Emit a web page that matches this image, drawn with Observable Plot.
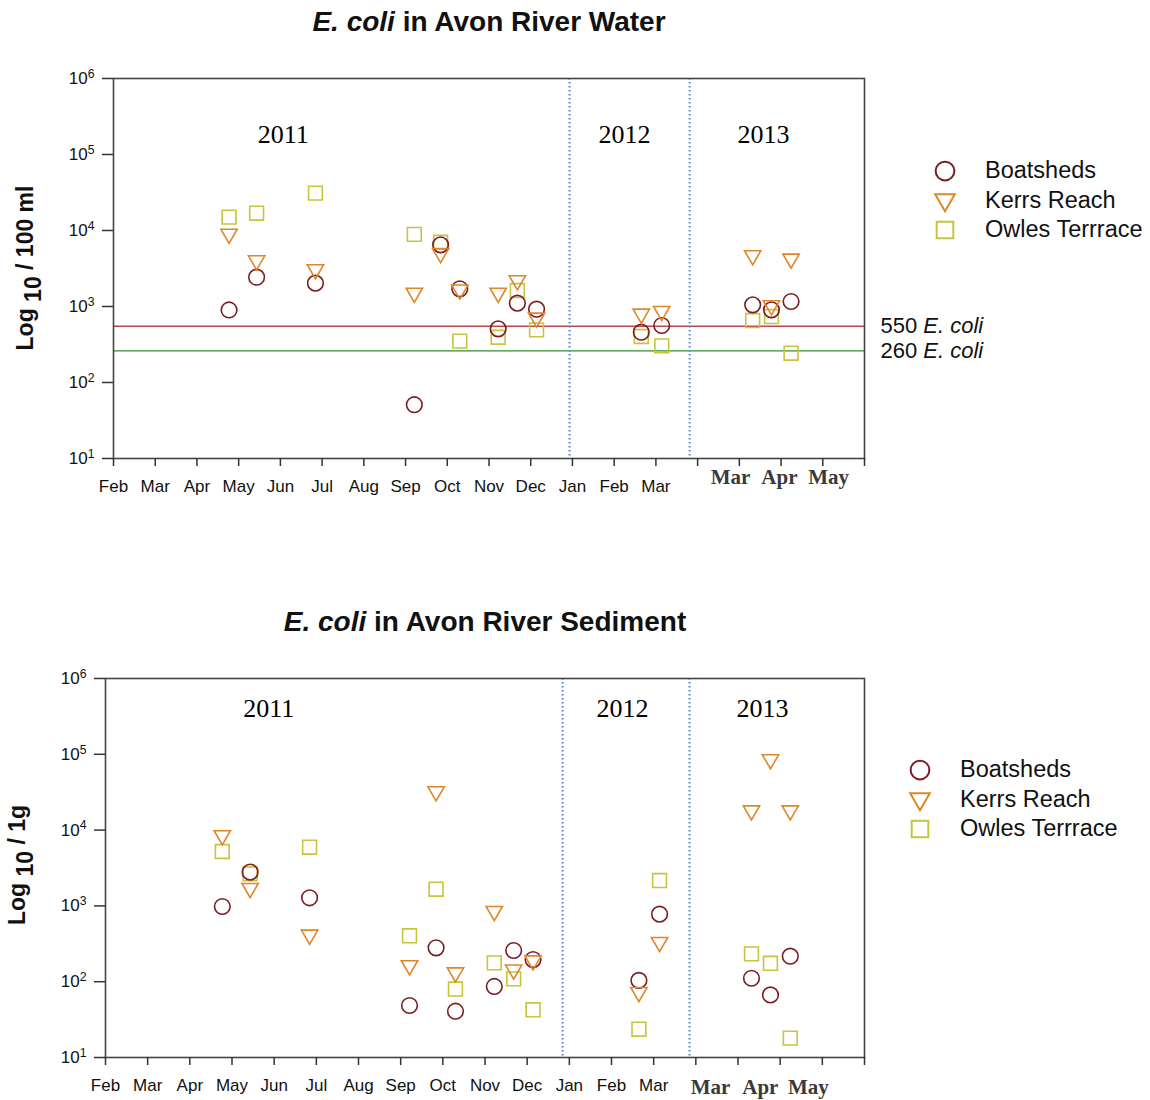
<!DOCTYPE html>
<html><head><meta charset="utf-8">
<script src="https://cdn.jsdelivr.net/npm/d3@7"></script>
<script src="https://cdn.jsdelivr.net/npm/@observablehq/plot@0.6"></script>
<style>
body{margin:0;background:#fff;}
#root{position:relative;width:1150px;height:1100px;font-family:"Liberation Sans",Arial,sans-serif;}
.abs{position:absolute;}
.title{font-weight:bold;font-size:28px;line-height:28px;text-align:center;color:#111;}
.ytitle{font-weight:bold;font-size:23px;line-height:23px;white-space:nowrap;transform:translate(-50%,-50%) rotate(-90deg);color:#111;}
.ytitle .sub{position:relative;top:0.35em;}
.lg-swatch{height:29.5px;padding-bottom:0 !important;}
.lg-swatch > svg{margin-right:30px !important;}
</style></head><body><div id="root"></div><script>
// ---------- data ----------
const sites = ["Boatsheds", "Kerrs Reach", "Owles Terrrace"];
const siteColors = ["#7a1c22", "#e0862a", "#c8c43c"];
// sampling positions in months since Feb 2011 (axis index)
const sampleIndex = [2.77, 3.43, 4.84, 7.21, 7.84, 8.3, 9.22, 9.68, 10.14, 12.65, 13.14, 15.32, 15.77, 16.24];
const waterBoatsheds = [900, 2430, 2030, 51, 6470, 1710, 508, 1107, 922, 459, 562, 1052, 904, 1163];
const waterKerrs     = [9000, 4030, 3070, 1510, 5020, 1660, 1510, 2200, 710, 800, 868, 4690, 1030, 4240];
const waterOwles     = [15000, 16900, 31000, 8900, 7000, 350, 394, 1620, 493, 403, 303, 654, 738, 243];
const sedBoatsheds   = [982, 2790, 1280, 48.5, 280, 40.8, 86.5, 258, 196, 104, 778, 111, 67, 217];
const sedKerrs       = [8490, 1710, 415, 164, 32300, 132, 851, 144, 190, 72.7, 332, 18100, 85400, 18100];
const sedOwles       = [5220, 2650, 5950, 403, 1660, 80, 177, 109, 42.6, 23.6, 2160, 233, 175, 18];

const monthTicks = [0,1,2,3,4,5,6,7,8,9,10,11,12,13,14,15,16,17,18];
const monthLabels = ["Feb","Mar","Apr","May","Jun","Jul","Aug","Sep","Oct","Nov","Dec","Jan","Feb","Mar"];
const labels2013 = ["Mar","Apr","May"];
const waterTicks2013 = [14.79, 15.96, 17.14];
const sedTicks2013 = [14.35, 15.53, 16.67];
const decadeTicks = [10, 100, 1000, 10000, 100000, 1000000];
const decadeExponents = ["1","2","3","4","5","6"];

const thresholdValues = [550, 260];
const thresholdLabels = ["550 E. coli", "260 E. coli"];
const thresholdColors = ["#b8484c", "#2f8f2f"];

const yearNames = ["2011", "2012", "2013"];
const waterYearX = [4.07, 12.25, 15.58];
const waterYearY = 182000;
const sedYearX = [3.87, 12.26, 15.58];
const sedYearY = 400000;
const waterBreaks = [10.93, 13.81];
const sedBreaks = [10.84, 13.85];

// ---------- helpers ----------
const SANS = "Liberation Sans, Arial, sans-serif";
const SERIF = "Liberation Serif, Times New Roman, serif";
const triDown = {
  draw(context, size) {
    const s = Math.sqrt(size) * 0.6824, t = s / 2, u = s * Math.sqrt(3) / 2;
    context.moveTo(0, s); context.lineTo(-u, -t); context.lineTo(u, -t); context.closePath();
  }
};
function makeTable(bo, ke, ow) {
  const rows = [];
  sampleIndex.forEach((x, i) => rows.push({x, value: ow[i], site: sites[2]}));
  sampleIndex.forEach((x, i) => rows.push({x, value: bo[i], site: sites[0]}));
  sampleIndex.forEach((x, i) => rows.push({x, value: ke[i], site: sites[1]}));
  return rows;
}
function panel({data, height, marginLeft, marginBottom, breaks, yearX, yearY, thresholds, ticks2013, pad2013}) {
  const marks = [];
  if (thresholds) {
    const th = thresholdValues.map((v, i) => ({v, label: thresholdLabels[i], c: thresholdColors[i]}));
    marks.push(Plot.ruleY(th, {y: "v", stroke: "c", strokeWidth: 1.3}));
    marks.push(Plot.text(th, {x: () => 18, y: "v", text: "label", dx: 16, textAnchor: "start", fontSize: 22, fontFamily: SANS, fill: "#111", ariaDescription: "threshold label"}));
  }
  marks.push(
    Plot.ruleX(breaks, {stroke: "#4a86c8", strokeWidth: 2, strokeDasharray: "1.5,2.5"}),
    Plot.frame({stroke: "#444", strokeWidth: 1.6}),
    Plot.axisX({ticks: monthTicks, tickFormat: (d) => monthLabels[d] ?? "", tickSize: 8, tickPadding: 13, stroke: "#333", strokeWidth: 1.5, fontSize: 17, fontFamily: SANS, fill: "#111", label: null}),
    Plot.axisX({ticks: ticks2013, tickFormat: (d) => labels2013[ticks2013.indexOf(d)], tickSize: 0, tickPadding: pad2013, fontSize: 21, fontWeight: "bold", fontFamily: SERIF, fill: "#3a3a3a", label: null}),
    Plot.axisY({ticks: decadeTicks, tickFormat: (d) => "10^" + decadeExponents[decadeTicks.indexOf(d)], tickSize: 11, tickPadding: 8, stroke: "#333", strokeWidth: 1.5, fontSize: 17, fontFamily: SANS, fill: "#111", label: null, ariaDescription: "decade"}),
    Plot.text(yearNames, {x: (d, i) => yearX[i], y: () => yearY, text: (d) => d, fontSize: 26, fontFamily: SERIF, fill: "#000"}),
    Plot.dot(data, {x: "x", y: "value", symbol: "site", stroke: "site", fill: "none", r: 7.8, strokeWidth: 1.6})
  );
  const chart = Plot.plot({
    width: 1150, height,
    marginLeft, marginRight: 286, marginTop: 78, marginBottom,
    x: {domain: [0, 18], axis: null},
    y: {type: "log", domain: [10, 1e6], axis: null},
    symbol: {domain: sites, range: ["circle", triDown, "square"]},
    color: {domain: sites, range: siteColors},
    style: {fontFamily: SANS, fontSize: "17px", background: "transparent", overflow: "visible", color: "#111"},
    marks
  });
  const svg = d3.select(chart);
  svg.selectAll('g[aria-description="threshold label"] text').each(function () {
    const t = this.textContent; const k = t.indexOf(" ");
    const sel = d3.select(this); sel.text(null);
    sel.append("tspan").text(t.slice(0, k + 1));
    sel.append("tspan").attr("font-style", "italic").text(t.slice(k + 1));
  });
  svg.selectAll("text").each(function () {
    const t = this.textContent;
    if (/^10\^\d$/.test(t)) {
      const sel = d3.select(this); sel.text(null);
      sel.append("tspan").text("10");
      sel.append("tspan").attr("font-size", "0.72em").attr("dy", "-0.5em").text(t.slice(3));
    }
  });
  return chart;
}
function place(el, left, top) {
  const d = document.createElement("div");
  d.className = "abs"; d.style.left = left + "px"; d.style.top = top + "px";
  d.appendChild(el); root.appendChild(d); return d;
}
function html(str, cls, css) {
  const d = document.createElement("div");
  d.className = "abs " + cls; d.innerHTML = str; Object.assign(d.style, css); root.appendChild(d); return d;
}
const root = document.getElementById("root");

// ---------- water panel ----------
const water = panel({data: makeTable(waterBoatsheds, waterKerrs, waterOwles), height: 520, marginLeft: 113, marginBottom: 62, breaks: waterBreaks, yearX: waterYearX, yearY: waterYearY, thresholds: true, ticks2013: waterTicks2013, pad2013: 11});
place(water, 0, 0);
html('<i>E. coli</i> in Avon River Water', "title", {left: "0px", width: "978px", top: "8px"});
html('Log <span class="sub">10</span> / 100 ml', "ytitle", {left: "25px", top: "268px"});
const lg1 = water.legend("symbol", {className: "lg", columns: 1, swatchSize: 20, r: 7.5, strokeWidth: 1.6, style: {fontSize: "23.5px", fontFamily: SANS, color: "#111", margin: "0"}});
place(lg1, 935, 156);

// ---------- sediment panel ----------
const sed = panel({data: makeTable(sedBoatsheds, sedKerrs, sedOwles), height: 500, marginLeft: 105, marginBottom: 43, breaks: sedBreaks, yearX: sedYearX, yearY: sedYearY, thresholds: false, ticks2013: sedTicks2013, pad2013: 22});
place(sed, 0, 600);
html('<i>E. coli</i> in Avon River Sediment', "title", {left: "0px", width: "970px", top: "608px"});
html('Log <span class="sub">10</span> / 1g', "ytitle", {left: "17px", top: "865px"});
const lg2 = sed.legend("symbol", {className: "lg", columns: 1, swatchSize: 20, r: 7.5, strokeWidth: 1.6, style: {fontSize: "23.5px", fontFamily: SANS, color: "#111", margin: "0"}});
place(lg2, 910, 755);
</script></body></html>
